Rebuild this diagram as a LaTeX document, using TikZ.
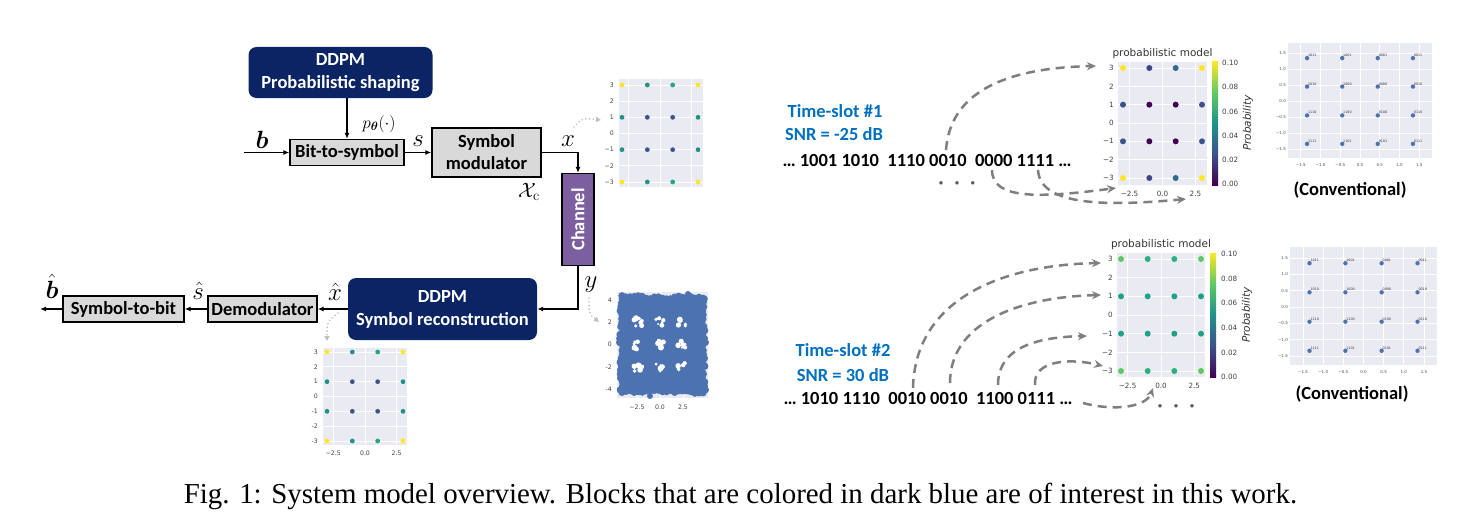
\documentclass[tikz,border=0pt]{standalone}
\usepackage{amsmath,bm}
\usepackage{graphicx}
\usepackage[no-math]{fontspec}
\setmainfont{Liberation Serif}
\newfontfamily\calfont{Carlito}
\newfontfamily\djfont{DejaVu Sans}
\usetikzlibrary{arrows.meta}
\definecolor{navyc}{HTML}{0B2463}
\definecolor{purc}{HTML}{7C5F9E}
\definecolor{boxg}{HTML}{D9D9D9}
\definecolor{tsblue}{HTML}{0070C0}
\definecolor{dgray}{HTML}{7F7F7F}
\definecolor{pbg}{HTML}{EAEAF2}
\definecolor{pblue}{HTML}{4C72B0}
\definecolor{vY}{HTML}{FDE725}
\definecolor{vT}{HTML}{21918C}
\definecolor{vG}{HTML}{22A884}
\definecolor{vB}{HTML}{3B528B}
\definecolor{vB2}{HTML}{31688E}
\definecolor{vDB}{HTML}{414487}
\definecolor{vP}{HTML}{440154}
\definecolor{vLG}{HTML}{5EC962}
\definecolor{vTG}{HTML}{2AB07F}
\definecolor{vT2}{HTML}{1FA187}
\pgfdeclareverticalshading{viridisbar}{100bp}{color(0bp)=(vP); color(25bp)=(vP); color(37.5bp)=(vB); color(50bp)=(vT); color(62.5bp)=(vLG); color(75bp)=(vY); color(100bp)=(vY)}
\tikzset{
  blk/.style={draw=black, line width=1.3pt, fill=boxg, font=\calfont\bfseries\fontsize{18.5}{22}\selectfont, inner sep=0pt, align=center},
  dblk/.style={fill=navyc, rounded corners=8pt, text=white, font=\calfont\bfseries\fontsize{18.5}{23}\selectfont, inner sep=0pt, align=center},
  chan/.style={draw=black, line width=1.3pt, fill=purc, inner sep=0pt},
  conn/.style={line width=1.5pt, -{Latex[length=6pt,width=5pt]}},
  mlab/.style={font=\fontsize{24}{26}\selectfont, inner sep=0pt},
  dasharr/.style={draw=dgray, line width=2.5pt, dash pattern=on 9pt off 6pt, -{Stealth[length=9pt,width=8pt]}},
  dotarr/.style={draw=black!25, line width=1.8pt, dash pattern=on 0.1pt off 3.6pt, line cap=round, -{Triangle[length=5pt,width=5pt]}},
  tickA/.style={font=\djfont\fontsize{6.2}{7}\selectfont, text=black!75, inner sep=0pt},
  tickP/.style={font=\djfont\fontsize{7.2}{8}\selectfont, text=black!75, inner sep=0pt},
  tickC/.style={font=\djfont\fontsize{4}{5}\selectfont, text=black!70, inner sep=0pt},
  ptlab/.style={font=\djfont\fontsize{3.3}{4}\selectfont, text=black!80, inner sep=0.3pt},
  gridw/.style={draw=white, line width=0.9pt},
  tsl/.style={font=\calfont\bfseries\fontsize{18.5}{20}\selectfont, text=tsblue, inner sep=0pt},
  bitsl/.style={font=\calfont\bfseries\fontsize{18.5}{20}\selectfont, inner sep=0pt},
  ttl/.style={font=\djfont\fontsize{10.5}{12}\selectfont, text=black!80, inner sep=0pt},
}
\begin{document}
\begin{tikzpicture}[x=1pt,y=-1pt]
\useasboundingbox (0,0) rectangle (1483,527);

% ---------------- left block diagram ----------------
\node[dblk, minimum width=184pt, minimum height=51pt] (ps) at (340.5,72.5) {DDPM\\Probabilistic shaping};
\node[blk, minimum width=114pt, minimum height=26pt] (b2s) at (347,152.5) {Bit-to-symbol};
\node[blk, minimum width=109pt, minimum height=49pt] (mod) at (486.5,152.5) {Symbol\\modulator};
\node[chan, minimum width=32pt, minimum height=92pt] (ch) at (578,219.5) {};
\node[rotate=90, text=white, font=\calfont\bfseries\fontsize{18.5}{20}\selectfont, inner sep=0pt] (chtxt) at (ch.center) {Channel};
\node[dblk, minimum width=189pt, minimum height=62pt] (rec) at (442.5,309) {DDPM\\Symbol reconstruction};
\node[blk, minimum width=109pt, minimum height=26pt] (dem) at (262.5,309) {Demodulator};
\node[blk, minimum width=121pt, minimum height=26pt] (s2b) at (123.5,309) {Symbol-to-bit};

\coordinate (bin) at (244,152.5);
\coordinate (bout) at (40,309);
\draw[conn] (bin) -- (b2s.west);
\draw[conn] (ps.south -| b2s.north) -- (b2s.north);
\draw[conn] (b2s.east) -- (mod.west);
\draw[conn] (mod.east) -| (ch.north);
\draw[conn] (ch.south) |- (rec.east);
\draw[conn] (rec.west) -- (dem.east);
\draw[conn] (dem.west) -- (s2b.east);
\draw[conn] (s2b.west) -- (bout);

\node[mlab, anchor=base] (lb) at (262,148) {$\bm{b}$};
\node[font=\fontsize{17}{19}\selectfont, inner sep=0pt, anchor=base] (lp) at (379,128) {$p_{\bm{\theta}}(\cdot)$};
\node[mlab, anchor=base] (ls) at (418,146) {$s$};
\node[mlab, anchor=base] (lx) at (568,146) {$x$};
\node[font=\fontsize{21}{23}\selectfont, inner sep=0pt, anchor=base] (lxc) at (529,197) {$\mathcal{X}_{\mathrm{c}}$};
\node[mlab, anchor=base] (ly) at (591,287) {$y$};
\node[mlab, anchor=base] (lxh) at (335,300) {$\hat{x}$};
\node[mlab, anchor=base] (lsh) at (198,299) {$\hat{s}$};
\node[mlab, anchor=base] (lbh) at (52,298) {$\hat{\bm{b}}$};

% ---------------- plot A (x) ----------------
\fill[pbg] (619,79) rectangle (703,187);
\foreach \v in {-3,...,3} \draw[gridw] (619,{133.5-16.17*\v}) -- (703,{133.5-16.17*\v});
\foreach \u in {-2.5,0,2.5} \draw[gridw] ({660+12.67*\u},79) -- ({660+12.67*\u},187);
\foreach \v/\t in {3/3,2/2,1/1,0/0,-1/−1,-2/−2,-3/−3} \node[tickA,anchor=east] at (614,{133.5-16.17*\v}) {\t};
\foreach \u/\v/\c in {-3/3/vY,-1/3/vT,1/3/vG,3/3/vY,-3/1/vT,-1/1/vB,1/1/vB,3/1/vT,-3/-1/vT,-1/-1/vB,1/-1/vB,3/-1/vT,-3/-3/vY,-1/-3/vT,1/-3/vG,3/-3/vY}
  \fill[\c] ({660+12.67*\u},{133.5-16.17*\v}) circle (2.4);

% ---------------- plot B (x hat) ----------------
\fill[pbg] (323,348) rectangle (407,445);
\foreach \v in {-3,...,3} \draw[gridw] (323,{396.5-14.83*\v}) -- (407,{396.5-14.83*\v});
\foreach \u in {-2.5,0,2.5} \draw[gridw] ({365+12.67*\u},348) -- ({365+12.67*\u},445);
\foreach \v/\t in {3/3,2/2,1/1,0/0,-1/-1,-2/-2,-3/-3} \node[tickA,anchor=east] at (318,{396.5-14.83*\v}) {\t};
\foreach \u/\t in {-2.5/−2.5,0/0.0,2.5/2.5} \node[tickA] at ({365+12.67*\u},453) {\t};
\foreach \u/\v/\c in {-3/3/vY,-1/3/vT,1/3/vG,3/3/vY,-3/1/vT,-1/1/vB,1/1/vB,3/1/vT,-3/-1/vT,-1/-1/vB,1/-1/vB,3/-1/vT,-3/-3/vY,-1/-3/vT,1/-3/vG,3/-3/vY}
  \fill[\c] ({365+12.67*\u},{396.5-14.83*\v}) circle (2.4);

% ---------------- plot N (noisy y) ----------------
\fill[pbg] (617,292) rectangle (708,398);
\foreach \v in {4,2,0,-2,-4} \draw[gridw] (617,{344.5-11.125*\v}) -- (708,{344.5-11.125*\v});
\foreach \u in {-2.5,0,2.5} \draw[gridw] ({660+9.2*\u},292) -- ({660+9.2*\u},398);
\foreach \v/\t in {4/4,2/2,0/0,-2/-2,-4/-4} \node[tickA,anchor=east] at (612,{344.5-11.125*\v}) {\t};
\foreach \u/\t in {-2.5/−2.5,0/0.0,2.5/2.5} \node[tickA] at ({660+9.2*\u},407) {\t};
\pgfmathsetseed{11}
\fill[pblue, rounded corners=3pt] (622,298) rectangle (703,391);
\foreach \i in {0,...,20} {
  \fill[pblue] ({622+\i*4.05},{299-rnd*3.5}) circle (3.6);
  \fill[pblue] ({622+\i*4.05},{390+rnd*3.5}) circle (3.6);
}
\foreach \i in {0,...,23} {
  \fill[pblue] ({623-rnd*3.5},{299+\i*3.95}) circle (3.6);
  \fill[pblue] ({702+rnd*3.5},{299+\i*3.95}) circle (3.6);
}
\fill[pblue] (650,396) circle (3);
\fill[pblue] (688,294) circle (3);
\fill[pblue] (704,302) circle (3);
\foreach \hx in {638,660,682} {
  \foreach \hy in {322,345,367} {
    \foreach \k in {1,...,7} {
      \fill[white] ({\hx+rand*4.2},{\hy+rand*4.2}) circle ({1.1+rnd*2});
    }
  }
}

% dotted pointers
\coordinate (dA1) at (574,127);
\coordinate (dA2) at (601,120);
\draw[dotarr] (dA1) .. controls (582,118) .. (dA2);
\coordinate (dB1) at (589,298);
\coordinate (dB2) at (599,322);
\draw[dotarr] (dB1) .. controls (589,314) .. (dB2);
\coordinate (dC1) at (338,313);
\coordinate (dC2) at (327,341);
\draw[dotarr] (dC1) .. controls (327,322) .. (dC2);

% ---------------- right: time-slot 1 ----------------
\node[tsl] (ts1) at (835,111) {Time-slot \#1};
\node[tsl] (snr1) at (834,134) {SNR = -25 dB};
\node[bitsl] (bits1) at (927,160) {… 1001 1010\ \ 1110 0010\ \ 0000 1111 …};
\node[font=\calfont\bfseries\fontsize{18.5}{20}\selectfont, text=black!65, inner sep=0pt, anchor=base] (dots1) at (957,188) {·\hspace{11pt}·\hspace{11pt}·};

% plot P1
\node[ttl] (t1) at (1162.5,54) {probabilistic model};
\fill[pbg] (1118,62) rectangle (1207,185);
\foreach \v in {-3,...,3} \draw[gridw] (1118,{123-18.33*\v}) -- (1207,{123-18.33*\v});
\foreach \u in {-2.5,0,2.5} \draw[gridw] ({1162.5+13.17*\u},62) -- ({1162.5+13.17*\u},185);
\foreach \v/\t in {3/3,2/2,1/1,0/0,-1/−1,-2/−2,-3/−3} \node[tickP,anchor=east] at (1114,{123-18.33*\v}) {\t};
\foreach \u/\t in {-2.5/−2.5,0/0.0,2.5/2.5} \node[tickP] at ({1162.5+13.17*\u},194) {\t};
\foreach \u/\v/\c in {-3/3/vY,-1/3/vDB,1/3/vB2,3/3/vY,-3/1/vB,-1/1/vP,1/1/vP,3/1/vB,-3/-1/vB,-1/-1/vP,1/-1/vP,3/-1/vB,-3/-3/vY,-1/-3/vDB,1/-3/vB2,3/-3/vY}
  \fill[\c] ({1162.5+13.17*\u},{123-18.33*\v}) circle (3);
\shade[shading=viridisbar] (1212,62) rectangle (1218,185);
\foreach \k/\t in {0/0.00,1/0.02,2/0.04,3/0.06,4/0.08,5/0.10} \node[tickP,anchor=west] at (1222,{184-24.2*\k}) {\t};
\node[font=\djfont\itshape\fontsize{10.5}{12}\selectfont, text=black!80, rotate=90, inner sep=0pt] (pr1) at (1248,123) {Probability};

% dashed arrows slot 1
\coordinate (s1a) at (946,150);
\coordinate (e1a) at (1096,66);
\draw[dasharr] (s1a) .. controls (950,95) and (1000,68) .. (e1a);
\coordinate (s1b) at (992,170);
\coordinate (e1b) at (1116,188);
\draw[dasharr] (s1b) .. controls (992,200) and (1040,198) .. (e1b);
\coordinate (s1c) at (1038,170);
\coordinate (e1c) at (1186,199);
\draw[dasharr] (s1c) .. controls (1040,207) and (1110,206) .. (e1c);

% conventional 1
\fill[pbg] (1288,43) rectangle (1432,158);
\foreach \v in {-1.5,-1,-0.5,0,0.5,1,1.5} \draw[gridw] (1288,{101-32*\v}) -- (1432,{101-32*\v});
\foreach \u in {-1.5,-1,-0.5,0,0.5,1,1.5} \draw[gridw] ({1360+39.5*\u},43) -- ({1360+39.5*\u},158);
\foreach \v/\t in {1.5/1.5,1/1.0,0.5/0.5,0/0.0,-0.5/−0.5,-1/−1.0,-1.5/−1.5} \node[tickC,anchor=east] at (1286,{101-32*\v}) {\t};
\foreach \u/\t in {-1.5/−1.5,-1/−1.0,-0.5/−0.5,0/0.0,0.5/0.5,1/1.0,1.5/1.5} \node[tickC] at ({1360+39.5*\u},165) {\t};
\foreach \u/\v/\t in {-1.34/1.34/1011,-0.45/1.34/1001,0.45/1.34/0001,1.34/1.34/0011,-1.34/0.45/1010,-0.45/0.45/1000,0.45/0.45/0000,1.34/0.45/0010,-1.34/-0.45/1110,-0.45/-0.45/1100,0.45/-0.45/0100,1.34/-0.45/0110,-1.34/-1.34/1111,-0.45/-1.34/1101,0.45/-1.34/0101,1.34/-1.34/0111} {
  \fill[pblue] ({1360+39.5*\u},{101-32*\v}) circle (2.2);
  \node[ptlab,anchor=south west] at ({1360.5+39.5*\u},{100-32*\v}) {\t};
}
\node[bitsl] (conv1) at (1350,190) {(Conventional)};

% ---------------- right: time-slot 2 ----------------
\node[tsl] (ts2) at (843,350) {Time-slot \#2};
\node[tsl] (snr2) at (843,375) {SNR = 30 dB};
\node[bitsl] (bits2) at (928,398) {… 1010 1110\ \ 0010 0010\ \ 1100 0111 …};
\node[font=\calfont\bfseries\fontsize{18.5}{20}\selectfont, text=black!65, inner sep=0pt, anchor=base] (dots2) at (1176,411) {·\hspace{11pt}·\hspace{11pt}·};

% plot P2
\node[ttl] (t2) at (1161,245) {probabilistic model};
\fill[pbg] (1117,253) rectangle (1205,377);
\foreach \v in {-3,...,3} \draw[gridw] (1117,{315-18.67*\v}) -- (1205,{315-18.67*\v});
\foreach \u in {-2.5,0,2.5} \draw[gridw] ({1161+13.33*\u},253) -- ({1161+13.33*\u},377);
\foreach \v/\t in {3/3,2/2,1/1,0/0,-1/−1,-2/−2,-3/−3} \node[tickP,anchor=east] at (1113,{315-18.67*\v}) {\t};
\foreach \u/\t in {-2.5/−2.5,0/0.0,2.5/2.5} \node[tickP] at ({1161+13.33*\u},386) {\t};
\foreach \u/\v/\c in {-3/3/vLG,-1/3/vTG,1/3/vTG,3/3/vLG,-3/1/vT2,-1/1/vT2,1/1/vT2,3/1/vT2,-3/-1/vT2,-1/-1/vT2,1/-1/vT2,3/-1/vT2,-3/-3/vLG,-1/-3/vTG,1/-3/vTG,3/-3/vLG}
  \fill[\c] ({1161+13.33*\u},{315-18.67*\v}) circle (3);
\shade[shading=viridisbar] (1210,253) rectangle (1216,377);
\foreach \k/\t in {0/0.00,1/0.02,2/0.04,3/0.06,4/0.08,5/0.10} \node[tickP,anchor=west] at (1221,{377-24.6*\k}) {\t};
\node[font=\djfont\itshape\fontsize{10.5}{12}\selectfont, text=black!80, rotate=90, inner sep=0pt] (pr2) at (1247,315) {Probability};

% dashed arrows slot 2
\coordinate (s2a) at (913,388);
\coordinate (e2a) at (1101,263);
\draw[dasharr] (s2a) .. controls (915,300) and (1000,265) .. (e2a);
\coordinate (s2b) at (950,383);
\coordinate (e2b) at (1101,295);
\draw[dasharr] (s2b) .. controls (950,322) and (1020,297) .. (e2b);
\coordinate (s2c) at (998,385);
\coordinate (e2c) at (1087,336);
\draw[dasharr] (s2c) .. controls (998,346) and (1040,337) .. (e2c);
\coordinate (s2d) at (1035,385);
\coordinate (e2d) at (1103,366);
\draw[dasharr] (s2d) .. controls (1033,360) and (1070,358) .. (e2d);
\coordinate (s2e) at (1083,403);
\coordinate (e2e) at (1153,388);
\draw[dasharr] (s2e) .. controls (1112,411) and (1146,408) .. (e2e);

% conventional 2
\fill[pbg] (1290,247) rectangle (1437,365);
\foreach \v in {-1.5,-1,-0.5,0,0.5,1,1.5} \draw[gridw] (1290,{307-32.67*\v}) -- (1437,{307-32.67*\v});
\foreach \u in {-1.5,-1,-0.5,0,0.5,1,1.5} \draw[gridw] ({1363.5+40.3*\u},247) -- ({1363.5+40.3*\u},365);
\foreach \v/\t in {1.5/1.5,1/1.0,0.5/0.5,0/0.0,-0.5/−0.5,-1/−1.0,-1.5/−1.5} \node[tickC,anchor=east] at (1288,{307-32.67*\v}) {\t};
\foreach \u/\t in {-1.5/−1.5,-1/−1.0,-0.5/−0.5,0/0.0,0.5/0.5,1/1.0,1.5/1.5} \node[tickC] at ({1363.5+40.3*\u},372) {\t};
\foreach \u/\v/\t in {-1.34/1.34/1011,-0.45/1.34/1001,0.45/1.34/0001,1.34/1.34/0011,-1.34/0.45/1010,-0.45/0.45/1000,0.45/0.45/0000,1.34/0.45/0010,-1.34/-0.45/1110,-0.45/-0.45/1100,0.45/-0.45/0100,1.34/-0.45/0110,-1.34/-1.34/1111,-0.45/-1.34/1101,0.45/-1.34/0101,1.34/-1.34/0111} {
  \fill[pblue] ({1363.5+40.3*\u},{307-32.67*\v}) circle (2.2);
  \node[ptlab,anchor=south west] at ({1364+40.3*\u},{306-32.67*\v}) {\t};
}
\node[bitsl] (conv2) at (1352,394) {(Conventional)};

% ---------------- caption ----------------
\node[anchor=base, inner sep=0pt] (cap) at (740.5,503) {\resizebox{1113pt}{!}{Fig. 1: System model overview. Blocks that are colored in dark blue are of interest in this work.}};
\end{tikzpicture}
\end{document}
